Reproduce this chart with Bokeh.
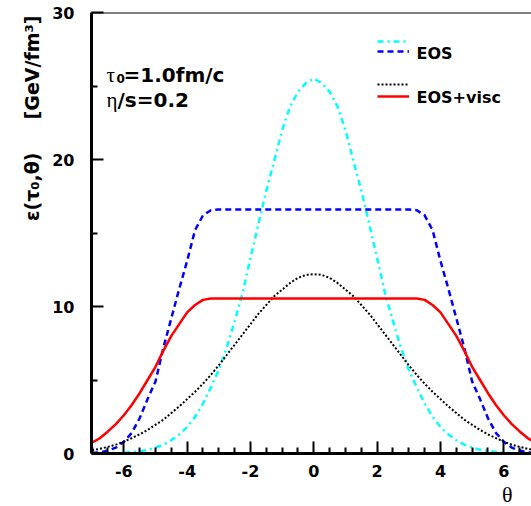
from math import pi
from bokeh.plotting import figure
from bokeh.models import Range1d, FixedTicker, Label, Legend, LegendItem, Span, Title
from bokeh.embed import file_html
from bokeh.resources import INLINE

# ---------------- data ----------------
theta = [-7.0, -6.75, -6.5, -6.25, -6.0, -5.75, -5.5, -5.25, -5.0, -4.75, -4.5, -4.25,
         -4.0, -3.75, -3.5, -3.25, -3.0, -2.75, -2.5, -2.25, -2.0, -1.75, -1.5, -1.25,
         -1.0, -0.75, -0.5, -0.25, 0.0, 0.25, 0.5, 0.75, 1.0, 1.25, 1.5, 1.75, 2.0,
         2.25, 2.5, 2.75, 3.0, 3.25, 3.5, 3.75, 4.0, 4.25, 4.5, 4.75, 5.0, 5.25, 5.5,
         5.75, 6.0, 6.25, 6.5, 6.75, 7.0]

# cyan dash-dot
ideal_gauss = [0.0, 0.01, 0.02, 0.03, 0.05, 0.1, 0.15, 0.25, 0.4, 0.6, 0.9, 1.3, 1.8, 2.5,
               3.4, 4.5, 5.7, 7.2, 9.0, 10.9, 13.3, 15.6, 17.9, 19.9, 22.0, 23.6, 24.6, 25.2,
               25.5,
               25.2, 24.6, 23.6, 22.0, 19.9, 17.9, 15.6, 13.3, 10.9, 9.0, 7.2, 5.7, 4.5, 3.4,
               2.5, 1.8, 1.3, 0.9, 0.6, 0.4, 0.25, 0.15, 0.1, 0.05, 0.03, 0.02, 0.01, 0.0]

# blue dashed (EOS)
eos_plateau = [0.03, 0.08, 0.2, 0.4, 0.8, 1.4, 2.4, 3.7, 4.9, 7.2, 9.2, 11.2, 13.1, 15.2,
               16.2, 16.55,
               16.6, 16.6, 16.6, 16.6, 16.6, 16.6, 16.6, 16.6, 16.6, 16.6, 16.6, 16.6, 16.6,
               16.6, 16.6, 16.6, 16.6, 16.6, 16.6, 16.6, 16.6, 16.6, 16.6, 16.6, 16.6,
               16.55, 16.2, 15.2, 13.1, 11.2, 9.2, 7.2, 4.9, 3.7, 2.4, 1.4, 0.8, 0.4, 0.2,
               0.08, 0.03]

# black dotted
visc_gauss = [0.22, 0.32, 0.45, 0.6, 0.8, 1.05, 1.3, 1.6, 1.95, 2.3, 2.75, 3.2, 3.7, 4.2,
              4.75, 5.35, 6.0, 6.7, 7.4, 8.1, 8.8, 9.5, 10.1, 10.7, 11.15, 11.6, 11.95, 12.15,
              12.2,
              12.15, 11.95, 11.6, 11.15, 10.7, 10.1, 9.5, 8.8, 8.1, 7.4, 6.7, 6.0, 5.35, 4.75,
              4.2, 3.7, 3.2, 2.75, 2.3, 1.95, 1.6, 1.3, 1.05, 0.8, 0.6, 0.45, 0.32, 0.22]

# red solid (EOS+visc)
visc_plateau = [0.75, 1.05, 1.5, 2.0, 2.6, 3.3, 4.1, 5.0, 5.9, 7.0, 8.0, 8.8, 9.6, 10.1,
                10.45,
                10.55, 10.55, 10.55, 10.55, 10.55, 10.55, 10.55, 10.55, 10.55, 10.55, 10.55,
                10.55, 10.55, 10.55, 10.55, 10.55, 10.55, 10.55, 10.55, 10.55, 10.55, 10.55,
                10.55, 10.55, 10.55, 10.55, 10.55,
                10.45, 10.1, 9.6, 8.8, 8.0, 7.0, 5.9, 5.0, 4.1, 3.3, 2.6, 2.0, 1.5, 1.05, 0.75]

x_major = [-6, -4, -2, 0, 2, 4, 6]
x_labels = ["-6", "-4", "-2", "0", "2", "4", "6"]
x_minor = [-7.0, -6.5, -5.5, -5.0, -4.5, -3.5, -3.0, -2.5, -1.5, -1.0, -0.5, 0.5, 1.0, 1.5,
           2.5, 3.0, 3.5, 4.5, 5.0, 5.5, 6.5, 7.0]
y_major = [0, 10, 20, 30]
y_minor = [5, 15, 25]

# ---------------- figure ----------------
X0, X1 = -7.02, 6.874
Y0, Y1 = 0, 30
FL, FR, FT, FB = 91, 531, 12, 455   # frame edges in page pixels

p = figure(width=531, height=506, output_backend="svg", toolbar_location=None,
           x_range=Range1d(X0, X1), y_range=Range1d(Y0, Y1),
           min_border_left=FL, min_border_right=0, min_border_top=FT,
           min_border_bottom=506 - FB)
p.outline_line_color = None
p.xgrid.visible = False
p.ygrid.visible = False
p.background_fill_color = "white"
p.border_fill_color = "white"

FONT = "DejaVu Sans"
SERIF = "Liberation Serif"

for ax in (p.xaxis[0], p.yaxis[0]):
    ax.axis_line_width = 3
    ax.axis_line_color = "black"
    ax.major_tick_in = 12
    ax.major_tick_out = 0
    ax.minor_tick_in = 6
    ax.minor_tick_out = 0
    ax.major_tick_line_width = 2
    ax.minor_tick_line_width = 2
    ax.major_tick_line_color = "black"
    ax.minor_tick_line_color = "black"
    ax.major_label_text_font = FONT
    ax.major_label_text_font_style = "bold"
    ax.major_label_text_font_size = "16px"
    ax.major_label_text_color = "black"

p.xaxis.ticker = FixedTicker(ticks=x_major, minor_ticks=x_minor)
p.xaxis.major_label_overrides = dict(zip(x_major, x_labels))
p.yaxis.ticker = FixedTicker(ticks=y_major, minor_ticks=y_minor)
p.xaxis.major_label_standoff = 11
p.yaxis.major_label_standoff = 17

p.add_layout(Span(location=Y1, dimension="width", line_color="black", line_width=2))

r_cyan = p.line(theta, ideal_gauss, line_color="cyan", line_width=2.5, line_dash="6 4 2 4")
r_blue = p.line(theta, eos_plateau, line_color="blue", line_width=2.5, line_dash="6 4")
r_black = p.line(theta, visc_gauss, line_color="black", line_width=2, line_dash="2 2")
r_red = p.line(theta, visc_plateau, line_color="red", line_width=2.5)

# ---------------- legend: two stacked samples per entry ----------------
ROW_H = 10

def sample_pair(r_top, r_bot, page_y_top, page_y_bot):
    # one legend holding the two stacked sample lines of an entry
    gap = page_y_bot - page_y_top
    bottom = FB - (page_y_bot + gap / 2.0)
    p.add_layout(Legend(items=[LegendItem(label=" ", renderers=[r_top]),
                               LegendItem(label=" ", renderers=[r_bot])],
                        location=(377 - FL, bottom), glyph_width=32, glyph_height=gap,
                        label_height=gap, label_width=0, label_standoff=0, spacing=0,
                        padding=0, margin=0, border_line_alpha=0, background_fill_alpha=0,
                        label_text_font_size="1px", label_text_line_height=0.5))

sample_pair(r_cyan, r_blue, 43, 53)
sample_pair(r_black, r_red, 86, 98)

# ---------------- axis titles ----------------
NB = "\u00a0"
p.add_layout(Title(text="ε(τ₀,θ)" + NB * 5 + "[GeV/fm³]", align="right", offset=3,
                   standoff=14, text_font=FONT, text_font_style="bold",
                   text_font_size="19px", text_color="black"), "left")
p.add_layout(Title(text="θ", align="right", offset=19, standoff=0,
                   text_font=SERIF, text_font_style="normal", text_font_size="22px",
                   text_color="black"), "below")

# ---------------- texts inside the frame ----------------
def dx(px):
    return X0 + (px - FL) * (X1 - X0) / (FR - FL)

def dy(py):
    return (FB - py) * (Y1 - Y0) / (FB - FT)

def lab(x, y, text, size, font=FONT, style="bold", align="left"):
    p.add_layout(Label(x=dx(x), y=dy(y), text=text, text_font=font, text_font_style=style,
                       text_font_size=size, text_align=align, text_baseline="alphabetic",
                       text_color="black"))

lab(106, 75, "τ", "21px", font=SERIF, style="normal")
lab(116, 78.5, "0", "12px")
lab(123, 75, "=1.0fm/c", "20px")
lab(106, 100, "η", "21px", font=SERIF, style="normal")
lab(117, 100, "/s=0.2", "20px")

lab(416, 53.5, "EOS", "16px")
lab(416, 97, "EOS+visc", "16px")

open("out.html", "w").write(file_html(p, INLINE))
